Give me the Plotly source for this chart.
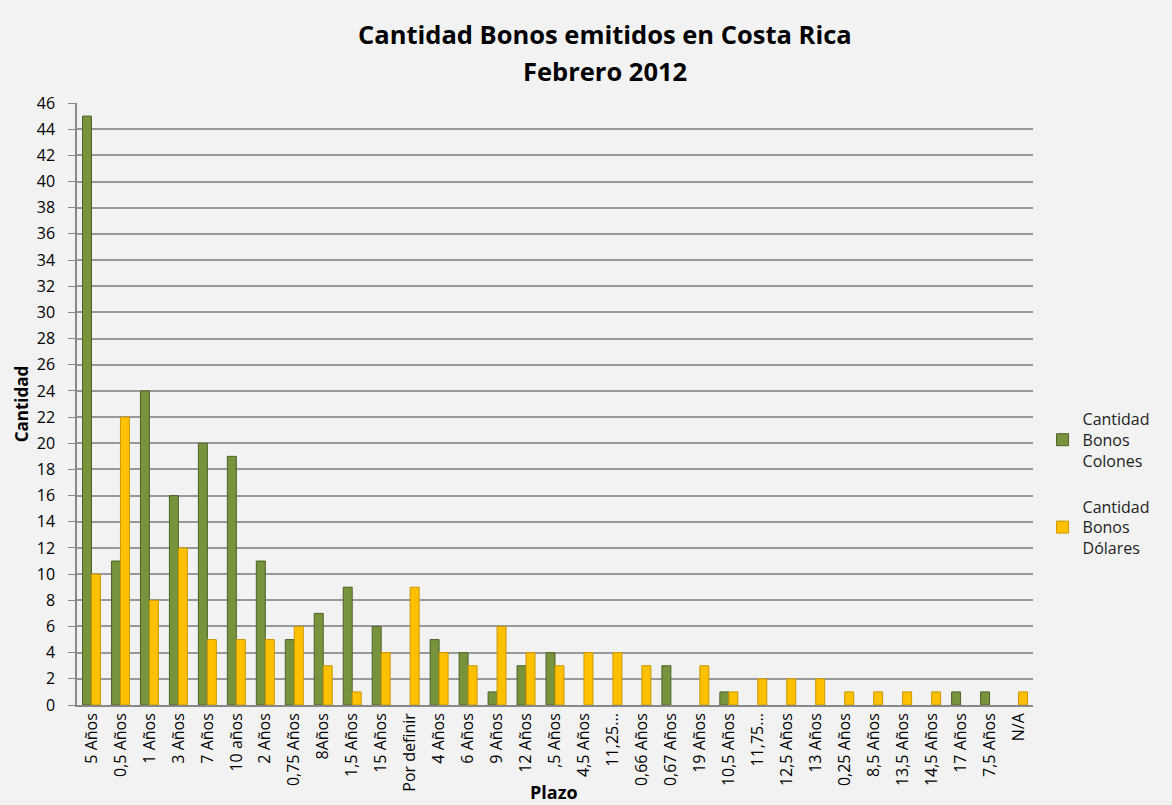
import plotly.graph_objects as go

plazos = ["5 Años", "0,5 Años", "1 Años", "3 Años", "7 Años", "10 años", "2 Años",
          "0,75 Años", "8Años", "1,5 Años", "15 Años", "Por definir", "4 Años", "6 Años",
          "9 Años", "12 Años", ",5 Años", "4,5 Años", "11,25...", "0,66 Años", "0,67 Años",
          "19 Años", "10,5 Años", "11,75...", "12,5 Años", "13 Años", "0,25 Años",
          "8,5 Años", "13,5 Años", "14,5 Años", "17 Años", "7,5 Años", "N/A"]
colones = [45, 11, 24, 16, 20, 19, 11, 5, 7, 9, 6, 0, 5, 4, 1, 3, 4, 0, 0, 0, 3,
           0, 1, 0, 0, 0, 0, 0, 0, 0, 1, 1, 0]
dolares = [10, 22, 8, 12, 5, 5, 5, 6, 3, 1, 4, 9, 4, 3, 6, 4, 3, 4, 4, 3, 0,
           3, 1, 2, 2, 2, 1, 1, 1, 1, 0, 0, 1]
y_ticks = list(range(0, 47, 2))

font = "Open Sans, Noto Sans, sans-serif"

# plot area in pixels, used to place the free texts
L, R, T, B = 77, 1033, 103, 705
W, H = R - L, B - T

# empty categories get no bar at all (avoids a stray outline at zero)
fig = go.Figure()
fig.add_trace(go.Bar(x=plazos, y=[v or None for v in colones],
                     name="Cantidad<br>Bonos<br>Colones", legendgroup="colones",
                     marker=dict(color="#77933C", line=dict(color="#4F6228", width=1))))
fig.add_trace(go.Bar(x=plazos, y=[v or None for v in dolares],
                     name="Cantidad<br>Bonos<br>Dólares", legendgroup="dolares",
                     marker=dict(color="#FFC000", line=dict(color="#C99700", width=1))))

fig.update_layout(
    width=1172, height=805,
    paper_bgcolor="#F2F2F2", plot_bgcolor="#F2F2F2",
    font=dict(family=font, color="black", size=15),
    barmode="group", bargap=0.38, bargroupgap=0,
    margin=dict(l=L, r=1172 - R, t=T, b=805 - B),
    showlegend=True,
    legend=dict(x=1.01, y=(B - 402) / H, yanchor="top", xanchor="left",
                font=dict(size=16, color="#222"), tracegroupgap=22,
                bgcolor="rgba(0,0,0,0)"),
    xaxis=dict(type="category", tickangle=-90, showgrid=False,
               showline=True, linecolor="#888", linewidth=1.5,
               tickfont=dict(size=16), ticks=""),
    yaxis=dict(range=[0, 46], tickvals=y_ticks, showgrid=True,
               gridcolor="#999", gridwidth=1.5, zeroline=False,
               showline=True, linecolor="#888", linewidth=1.5,
               ticks="outside", ticklen=7, tickcolor="#888",
               ticklabelstandoff=10,
               tickfont=dict(size=16),
               title=dict(text="<b>Cantidad</b>", font=dict(size=17), standoff=4)),
    annotations=[
        dict(text="<b>Cantidad Bonos emitidos en Costa Rica</b>",
             x=(605 - L) / W, y=(B - 34) / H, xref="paper", yref="paper",
             showarrow=False, font=dict(size=25.5), xanchor="center", yanchor="middle"),
        dict(text="<b>Febrero 2012</b>",
             x=(605 - L) / W, y=(B - 71) / H, xref="paper", yref="paper",
             showarrow=False, font=dict(size=25.5), xanchor="center", yanchor="middle"),
        dict(text="<b>Plazo</b>", x=(554 - L) / W, y=(B - 792) / H,
             xref="paper", yref="paper",
             showarrow=False, font=dict(size=18), xanchor="center", yanchor="middle"),
    ],
)

fig.write_html("out.html", config={"displayModeBar": False},
               post_script="document.body.style.margin='0';")
